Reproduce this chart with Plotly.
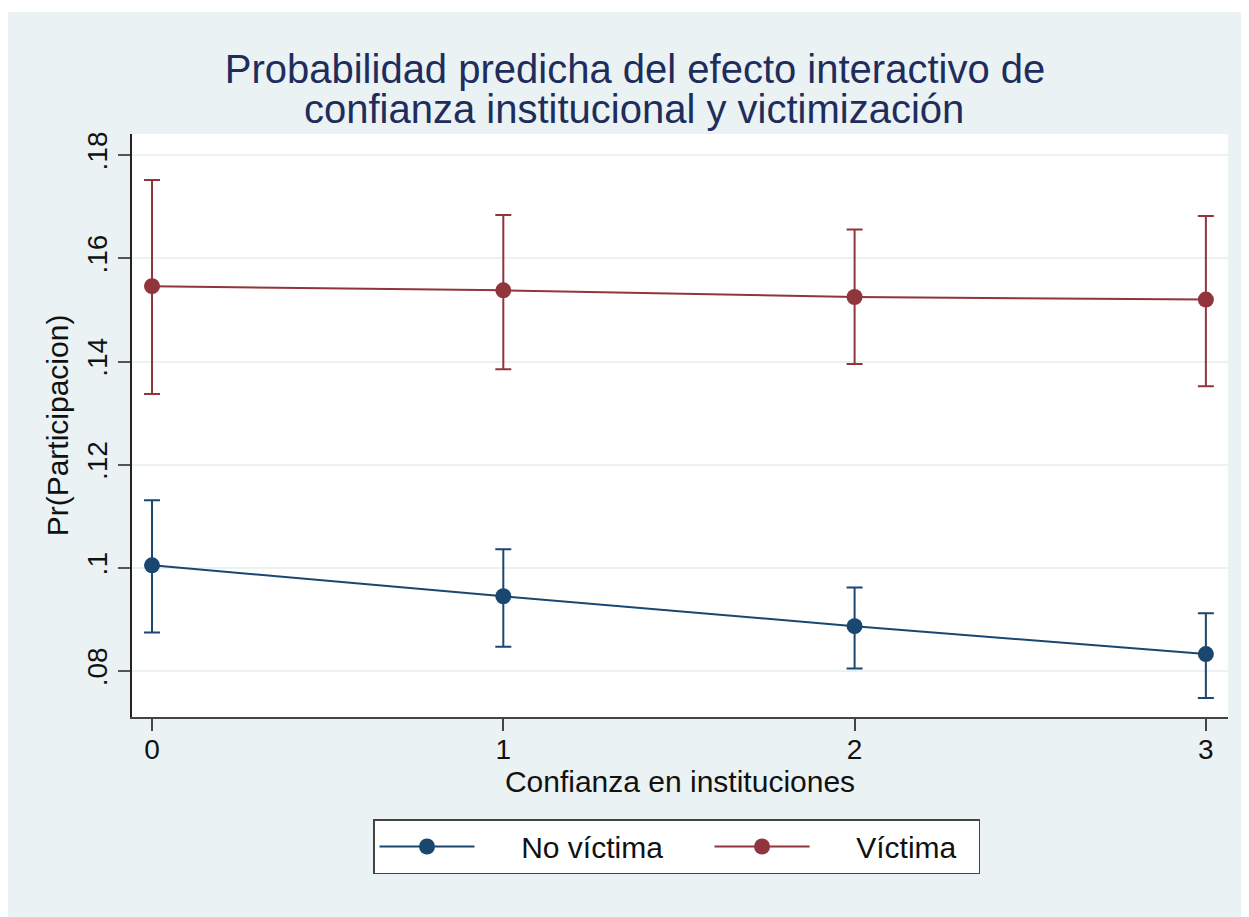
import plotly.graph_objects as go

# ---- data ----
confianza = [0, 1, 2, 3]
x_ticklabels = ["0", "1", "2", "3"]

no_victima = [0.1005, 0.0945, 0.0887, 0.0833]
no_victima_hi = [0.1131, 0.1036, 0.0962, 0.0912]
no_victima_lo = [0.0875, 0.0847, 0.0805, 0.0748]

victima = [0.1546, 0.1538, 0.1525, 0.1520]
victima_hi = [0.1752, 0.1684, 0.1656, 0.1682]
victima_lo = [0.1337, 0.1385, 0.1395, 0.1352]

y_tickvals = [0.08, 0.10, 0.12, 0.14, 0.16, 0.18]
y_ticklabels = [".08", ".1", ".12", ".14", ".16", ".18"]

series_names = ["No víctima", "Víctima"]

BLUE = "#1a476f"
RED = "#90353b"
BG = "#eaf2f3"
FONT = "Liberation Sans, Arial, sans-serif"
NB = "\u00a0"

OFF = 8  # page body margin
W, H = 1249 - OFF, 917 - OFF
# plot area in page pixels: x 132..1228, y 134..717
L, R, T, B = 132 - OFF, 1249 - 1228, 134 - OFF, 917 - 717
pw, ph = W - L - R, H - T - B


def px_x(p):
    return (p - OFF - L) / pw


def px_y(p):
    return (H - B - (p - OFF)) / ph


fig = go.Figure()
for i, (name, mid, hi, lo, col) in enumerate([
    (series_names[0], no_victima, no_victima_hi, no_victima_lo, BLUE),
    (series_names[1], victima, victima_hi, victima_lo, RED),
]):
    label = NB * 5 + name + (NB * 2 if i == 1 else NB * 5)
    fig.add_trace(go.Scatter(
        x=confianza, y=mid, name=label, mode="lines+markers",
        line=dict(color=col, width=2),
        marker=dict(color=col, size=16, symbol="circle"),
        error_y=dict(type="data", symmetric=False,
                     array=[h - m for h, m in zip(hi, mid)],
                     arrayminus=[m - l for m, l in zip(mid, lo)],
                     color=col, thickness=2, width=8),
    ))

fig.update_layout(
    width=W, height=H,
    margin=dict(l=L, r=R, t=T, b=B),
    paper_bgcolor=BG, plot_bgcolor="white",
    font=dict(family=FONT, color="#111"),
    title=dict(text="Probabilidad predicha del efecto interactivo de",
               font=dict(size=40, color="#1e2d5c", family=FONT),
               x=px_x(635), xref="paper", xanchor="center",
               y=1 - (69 - OFF) / H, yref="container", yanchor="middle"),
    showlegend=True,
    legend=dict(orientation="h", x=px_x(373), xanchor="left",
                y=px_y(819), yanchor="top",
                bgcolor="white", bordercolor="#444", borderwidth=1.5,
                font=dict(size=30, family=FONT, color="#111"),
                itemwidth=95, tracegroupgap=0),
    xaxis=dict(range=[-0.057, 3.063], tickvals=confianza, ticktext=x_ticklabels,
               showgrid=False, zeroline=False,
               showline=True, linecolor="#444", linewidth=2,
               ticks="outside", ticklen=12, tickwidth=2, tickcolor="#444",
               ticklabelstandoff=-6,
               tickfont=dict(size=28, family=FONT, color="#111"),
               title=dict(text="Confianza en instituciones",
                          font=dict(size=30, family=FONT, color="#111"),
                          standoff=6)),
    yaxis=dict(range=[0.0711, 0.1841], tickvals=y_tickvals, ticktext=y_ticklabels,
               tickangle=-90,
               showgrid=True, gridcolor=BG, gridwidth=2, zeroline=False,
               showline=True, linecolor="#222", linewidth=2,
               ticks="outside", ticklen=12, tickwidth=2, tickcolor="#555",
               tickfont=dict(size=28, family=FONT, color="#111"),
               title=dict(text="Pr(Participacion)",
                          font=dict(size=30, family=FONT, color="#111"),
                          standoff=4)),
    annotations=[dict(text="confianza institucional y victimización",
                      x=px_x(634), y=px_y(109), xref="paper", yref="paper",
                      xanchor="center", yanchor="middle", showarrow=False,
                      font=dict(size=40, color="#1e2d5c", family=FONT))],
    shapes=[
        dict(type="rect", xref="paper", yref="paper", layer="above",
             x0=px_x(-5), x1=px_x(1260), y0=px_y(12), y1=px_y(-5),
             fillcolor="white", line=dict(width=0)),
    ],
)

fig.write_html("out.html")
